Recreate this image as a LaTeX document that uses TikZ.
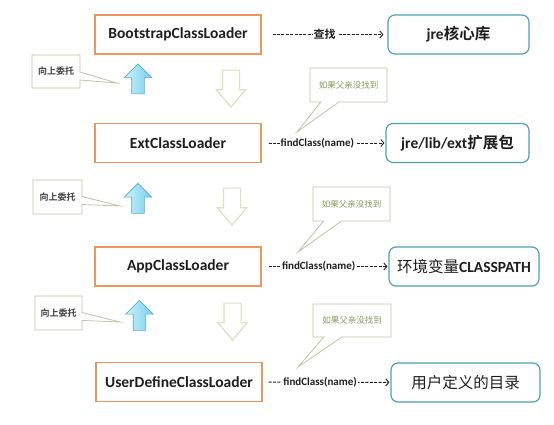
\documentclass[tikz,border=0pt]{standalone}
\usepackage{fontspec}
\setmainfont{Carlito}
\newfontfamily\cjk{Noto Sans CJK SC}[BoldFont={Noto Sans CJK SC Bold}]
\usetikzlibrary{shapes.arrows, shapes.callouts, arrows.meta}

\definecolor{boxOrange}{RGB}{238,150,95}
\definecolor{boxTeal}{RGB}{80,160,180}
\definecolor{arrowBlue}{RGB}{90,170,205}
\definecolor{arrowLight}{RGB}{205,242,252}
\definecolor{arrowDeep}{RGB}{115,205,235}
\definecolor{arrowPale}{RGB}{218,225,195}
\definecolor{noteLine}{RGB}{195,195,170}
\definecolor{noteText}{RGB}{135,155,95}
\definecolor{inkText}{RGB}{30,30,30}

\begin{document}
\begin{tikzpicture}[x=1pt, y=-1pt,
  loader/.style={draw=boxOrange, line width=1.2pt, minimum width=166pt, minimum height=39pt, text=inkText, font=\bfseries\fontsize{15.5}{17}\selectfont},
  target/.style={draw=boxTeal, line width=1.2pt, rounded corners=7pt, minimum height=39pt, text=inkText, font=\fontsize{15.5}{17}\selectfont},
  lookup/.style={inkText, line width=0.9pt, dash pattern=on 3pt off 1.4pt, -{Straight Barb[length=3pt,width=7pt]}},
  upArrow/.style={single arrow, rotate=90, draw=arrowBlue, line width=0.6pt, left color=arrowLight, right color=arrowDeep, inner xsep=0pt, inner ysep=6pt, single arrow head extend=7.5pt, minimum height=30pt},
  downArrow/.style={single arrow, rotate=-90, draw=arrowPale, line width=1.2pt, fill=white, inner xsep=0pt, inner ysep=8pt, single arrow head extend=6pt, single arrow tip angle=80, minimum height=37pt},
  upNote/.style={rectangle callout, draw=noteLine, fill=white, line width=0.8pt, callout pointer width=8pt, text=inkText!85, font=\cjk\bfseries\fontsize{9}{10}\selectfont},
  askNote/.style={rectangle callout, draw=noteLine, fill=white, line width=0.8pt, callout pointer width=18pt, text=noteText, font=\cjk\fontsize{8.5}{10}\selectfont}]
\useasboundingbox (0,0) rectangle (554,424);

% class loaders
\node[loader] (boot) at (178,34.5) {BootstrapClassLoader};
\node[loader] (ext) at (178,143) {ExtClassLoader};
\node[loader] (app) at (178,266.5) {AppClassLoader};
\node[loader] (user) at (179,382) {UserDefineClassLoader};

% where they look
\node[target, minimum width=141pt] (core) at (458.5,34.5) {\textbf{jre{\cjk 核心库}}};
\node[target, minimum width=143pt] (extlib) at (457.5,143) {\textbf{jre/lib/ext{\cjk 扩展包}}};
\node[target, minimum width=150pt] (cp) at (464,266.5) {{\cjk 环境变量}\textbf{CLASSPATH}};
\node[target, minimum width=149pt] (dir) at (465.5,382.5) {{\cjk 用户定义的目录}};

\draw[lookup, shorten <=11pt, shorten >=4pt] (boot) -- node[fill=white, inner xsep=1pt, font=\cjk\bfseries\fontsize{11}{12}\selectfont]{查找} (core);
\draw[lookup, shorten <=7pt, shorten >=1pt] (ext) -- node[pos=0.45, fill=white, inner xsep=1pt, font=\bfseries\fontsize{11}{12}\selectfont]{findClass(name)} (extlib);
\draw[lookup, shorten <=7pt, shorten >=1pt] (app) -- node[pos=0.45, fill=white, inner xsep=1pt, font=\bfseries\fontsize{11}{12}\selectfont]{findClass(name)} (cp);
\draw[lookup, shorten <=6pt, shorten >=1pt] (user) -- node[pos=0.45, fill=white, inner xsep=1pt, font=\bfseries\fontsize{11}{12}\selectfont]{findClass(name)} (dir);

% delegate up, search down
\node[upArrow] (up1) at (138,82) {};
\node[upArrow] (up2) at (138,201.5) {};
\node[upArrow] (up3) at (139.5,318.5) {};
\node[downArrow] (down1) at (231,83.5) {};
\node[downArrow] (down2) at (232,201.5) {};
\node[downArrow] (down3) at (232.5,316.5) {};

% notes
\coordinate (tip1) at (117,83);
\coordinate (tip2) at (120,206);
\coordinate (tip3) at (120,322);
\node[upNote, minimum width=48pt, minimum height=33pt, callout absolute pointer={(tip1)}] (note1) at (56,71.5) {向上委托};
\node[upNote, minimum width=49pt, minimum height=34pt, callout absolute pointer={(tip2)}] (note2) at (57.5,197) {向上委托};
\node[upNote, minimum width=47pt, minimum height=34pt, callout absolute pointer={(tip3)}] (note3) at (58.5,313) {向上委托};

\coordinate (miss1) at (297,132);
\coordinate (miss2) at (298,252);
\coordinate (miss3) at (298,367);
\node[askNote, minimum width=77pt, minimum height=34pt, callout absolute pointer={(miss1)}] (ask1) at (348.5,85) {如果父亲没找到};
\node[askNote, minimum width=77pt, minimum height=34pt, callout absolute pointer={(miss2)}] (ask2) at (351.5,204) {如果父亲没找到};
\node[askNote, minimum width=78pt, minimum height=33pt, callout absolute pointer={(miss3)}] (ask3) at (352,320.5) {如果父亲没找到};
\end{tikzpicture}
\end{document}
